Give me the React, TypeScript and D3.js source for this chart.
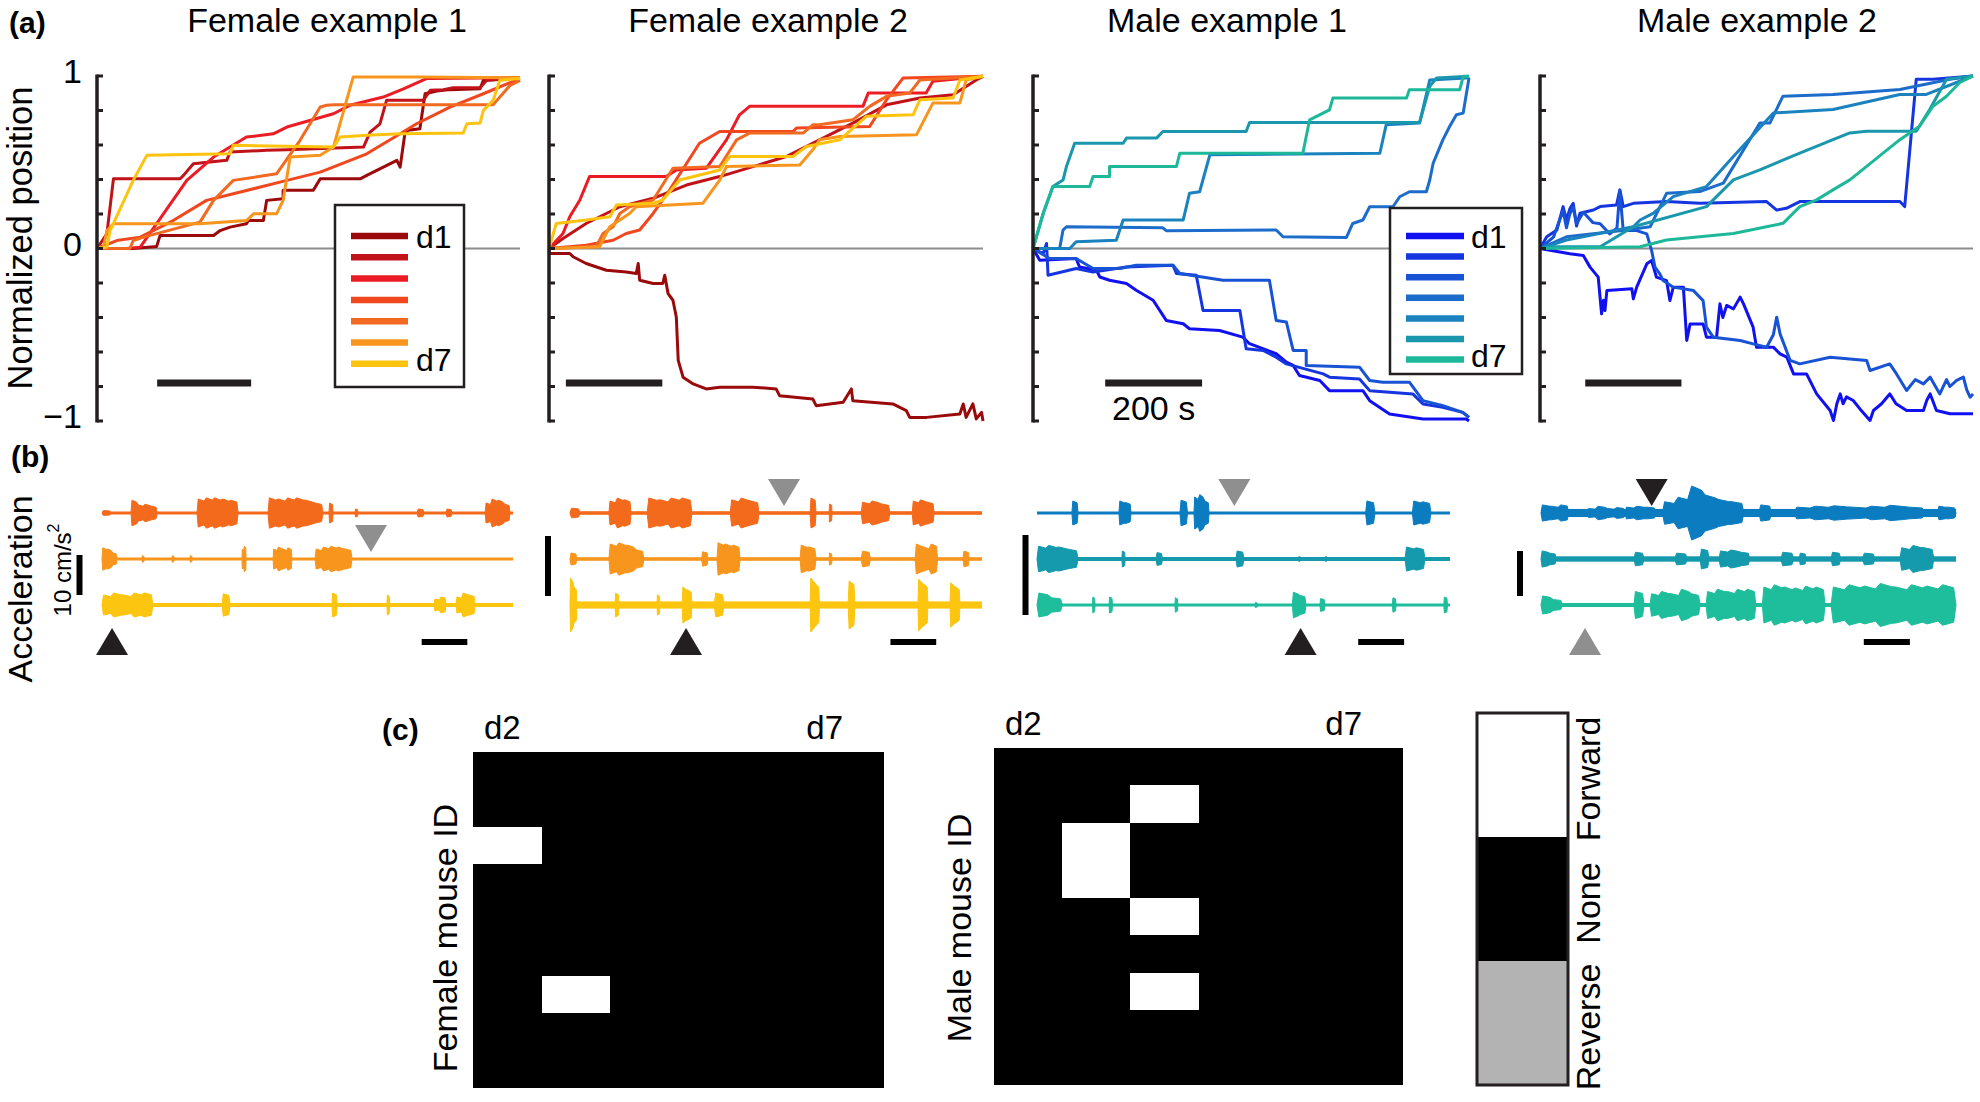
import React from 'react';
import * as d3 from 'd3';

const W = 1980;
const H = 1102;
const FONT = "'Liberation Sans', Arial, Helvetica, sans-serif";
const INK = '#231f20';
const FS = 34;

// ---------------- (a) normalized position ----------------
const panelTitles = ['Female example 1', 'Female example 2', 'Male example 1', 'Male example 2'];
const dayNames = ['d1', 'd2', 'd3', 'd4', 'd5', 'd6', 'd7'];
const femaleColors = ['#9a0a0a', '#c1121a', '#ec1c24', '#f0471f', '#f26a21', '#f7951d', '#fdc30f'];
const maleColors = ['#1010f0', '#1535e0', '#1852d5', '#1b6ccb', '#1a82be', '#1a97ac', '#1db899'];
const posTicks = [-1, -0.8, -0.6, -0.4, -0.2, 0, 0.2, 0.4, 0.6, 0.8, 1];
const posTickLabels = [
  { v: 1, label: '1' },
  { v: 0, label: '0' },
  { v: -1, label: '\u22121' },
];
const timeDomain = [0, 900];
const scaleBarSeconds = 200;
const scaleBarStarts = [128, 35, 149, 94];
const scaleBarLevel = -0.78;
const scaleBarText = '200 s';

type Pt = [number, number];

const female1: Pt[][] = [
  [[0,0],[77,0],[127,0.012],[134,0.075],[248,0.075],[262,0.104],[283,0.124],[318,0.143],[322,0.162],[354,0.162],[361,0.279],[396,0.288],[396,0.337],[460,0.337],[475,0.404],[560,0.404],[574,0.424],[638,0.511],[645,0.472],[655,0.665],[662,0.685],[687,0.694],[698,0.897],[723,0.913],[751,0.921],[815,0.926],[822,0.975],[857,0.979],[900,0.99]],
  [[0,0],[21,0.085],[35,0.404],[177,0.404],[184,0.424],[205,0.491],[276,0.511],[283,0.559],[361,0.569],[404,0.573],[567,0.588],[581,0.675],[602,0.723],[616,0.859],[694,0.859],[709,0.917],[737,0.921],[758,0.932],[815,0.932],[829,0.975],[900,0.99]],
  [[0,0],[63,0],[92,0.008],[191,0.395],[248,0.53],[318,0.646],[375,0.665],[404,0.704],[503,0.781],[538,0.83],[609,0.878],[652,0.926],[701,0.985],[900,0.99]],
  [[0,0],[42,0.046],[92,0.066],[162,0.162],[233,0.279],[290,0.317],[404,0.395],[475,0.443],[574,0.549],[645,0.665],[680,0.723],[751,0.82],[822,0.897],[900,0.985]],
  [[0,0],[70,0],[77,0.046],[99,0.066],[219,0.153],[248,0.279],[290,0.395],[382,0.433],[432,0.627],[475,0.82],[489,0.83],[503,0.834],[843,0.834],[879,0.946],[900,0.975]],
  [[0,0],[14,0.008],[21,0.104],[35,0.143],[219,0.143],[318,0.162],[333,0.201],[382,0.201],[396,0.279],[411,0.53],[475,0.54],[503,0.588],[545,0.994],[687,0.994],[900,0.99]],
  [[0,0],[21,0.008],[28,0.104],[77,0.395],[106,0.54],[283,0.549],[290,0.598],[503,0.588],[517,0.646],[574,0.656],[645,0.665],[779,0.669],[787,0.723],[815,0.727],[822,0.801],[843,0.859],[857,0.975],[900,0.985]],
];

const female2: Pt[][] = [
  [[0,0],[1,-0.029],[43,-0.029],[50,-0.048],[77,-0.087],[119,-0.126],[160,-0.136],[181,-0.145],[185,-0.087],[188,-0.184],[216,-0.203],[236,-0.203],[240,-0.155],[247,-0.262],[257,-0.3],[264,-0.397],[268,-0.649],[278,-0.746],[299,-0.785],[326,-0.814],[354,-0.804],[423,-0.804],[471,-0.814],[478,-0.853],[547,-0.872],[554,-0.911],[610,-0.891],[627,-0.814],[630,-0.882],[713,-0.901],[741,-0.94],[748,-0.979],[783,-0.979],[852,-0.959],[859,-0.901],[865,-0.979],[879,-0.901],[886,-0.988],[897,-0.95],[900,-1.0]],
  [[0,0],[29,0.058],[77,0.145],[147,0.242],[216,0.291],[285,0.368],[354,0.417],[423,0.475],[492,0.533],[561,0.63],[630,0.727],[700,0.833],[769,0.872],[838,0.891],[886,0.977],[900,0.998]],
  [[0,0],[29,0.087],[43,0.184],[64,0.281],[84,0.417],[243,0.417],[264,0.455],[326,0.465],[368,0.63],[395,0.775],[416,0.824],[651,0.824],[662,0.901],[782,0.901],[796,0.969],[900,0.998]],
  [[0,0],[77,0.019],[133,0.048],[160,0.087],[188,0.107],[216,0.203],[250,0.339],[312,0.61],[354,0.678],[506,0.678],[513,0.698],[665,0.707],[700,0.862],[734,0.988],[900,0.998]],
  [[0,0],[98,0.01],[112,0.087],[133,0.126],[147,0.203],[167,0.242],[216,0.281],[257,0.465],[354,0.475],[389,0.63],[416,0.669],[527,0.669],[547,0.717],[561,0.717],[630,0.746],[665,0.824],[700,0.882],[748,0.901],[769,0.977],[900,0.998]],
  [[0,0],[105,0.01],[126,0.126],[167,0.203],[181,0.242],[319,0.262],[354,0.397],[368,0.475],[520,0.484],[547,0.572],[561,0.63],[603,0.649],[762,0.659],[796,0.843],[852,0.843],[865,0.977],[900,0.998]],
  [[0,0],[15,0.145],[77,0.165],[126,0.184],[140,0.252],[216,0.262],[236,0.281],[271,0.397],[354,0.455],[375,0.533],[506,0.533],[534,0.591],[603,0.63],[658,0.766],[755,0.775],[769,0.862],[838,0.872],[852,0.977],[900,0.998]],
];

const male1: Pt[][] = [
  [[0,0],[14,-0.068],[89,-0.058],[96,-0.107],[131,-0.126],[138,-0.165],[158,-0.184],[193,-0.203],[213,-0.242],[248,-0.3],[275,-0.417],[310,-0.436],[323,-0.465],[385,-0.475],[433,-0.514],[447,-0.552],[502,-0.61],[523,-0.659],[537,-0.678],[550,-0.736],[592,-0.765],[612,-0.824],[681,-0.824],[695,-0.882],[736,-0.959],[805,-0.988],[894,-0.988],[900,-1.0]],
  [[0,0],[21,-0.029],[28,0.029],[31,-0.155],[89,-0.116],[124,-0.136],[193,-0.107],[289,-0.097],[296,-0.145],[337,-0.155],[351,-0.359],[427,-0.359],[440,-0.581],[475,-0.591],[502,-0.63],[523,-0.669],[599,-0.727],[612,-0.746],[674,-0.756],[695,-0.824],[784,-0.843],[805,-0.901],[846,-0.921],[887,-0.95],[900,-0.979]],
  [[0,0],[34,-0.058],[89,-0.058],[124,-0.116],[179,-0.116],[213,-0.097],[289,-0.097],[303,-0.145],[392,-0.184],[488,-0.184],[502,-0.417],[523,-0.426],[537,-0.591],[564,-0.591],[564,-0.678],[674,-0.688],[695,-0.765],[722,-0.775],[777,-0.775],[805,-0.882],[846,-0.911],[887,-0.95],[900,-0.979]],
  [[0,0],[55,0],[62,0.107],[69,0.126],[268,0.12],[275,0.103],[502,0.107],[516,0.068],[647,0.064],[660,0.145],[681,0.165],[695,0.242],[743,0.242],[757,0.3],[777,0.329],[812,0.329],[819,0.397],[826,0.494],[846,0.63],[860,0.707],[874,0.775],[888,0.785],[900,0.988]],
  [[0,0],[76,0],[89,0.039],[172,0.048],[186,0.165],[310,0.165],[323,0.32],[344,0.329],[365,0.543],[716,0.552],[729,0.717],[798,0.727],[819,0.977],[894,0.988],[900,0.998]],
  [[0,0],[21,0.203],[41,0.359],[62,0.397],[69,0.475],[86,0.61],[186,0.61],[193,0.64],[255,0.64],[268,0.678],[440,0.678],[447,0.731],[798,0.731],[819,0.94],[833,0.988],[900,0.998]],
  [[0,0],[21,0.203],[41,0.359],[117,0.359],[124,0.417],[158,0.417],[158,0.475],[296,0.475],[303,0.552],[557,0.552],[571,0.746],[612,0.804],[619,0.872],[771,0.872],[777,0.921],[881,0.921],[888,0.998],[900,0.998]],
];

const male2: Pt[][] = [
  [[0,0],[62,-0.031],[90,-0.041],[104,-0.108],[121,-0.166],[128,-0.379],[132,-0.3],[135,-0.36],[139,-0.244],[191,-0.234],[194,-0.292],[201,-0.224],[222,-0.089],[232,-0.07],[242,-0.166],[263,-0.186],[270,-0.302],[277,-0.224],[298,-0.224],[305,-0.533],[312,-0.437],[339,-0.437],[346,-0.514],[367,-0.514],[374,-0.321],[380,-0.4],[388,-0.33],[402,-0.35],[416,-0.282],[423,-0.321],[443,-0.456],[450,-0.572],[485,-0.572],[499,-0.611],[513,-0.63],[527,-0.727],[554,-0.727],[575,-0.843],[603,-0.939],[610,-0.997],[617,-0.9],[624,-0.843],[630,-0.9],[637,-0.86],[651,-0.881],[665,-0.93],[686,-0.997],[693,-0.939],[710,-0.9],[727,-0.843],[740,-0.9],[762,-0.939],[797,-0.939],[804,-0.88],[811,-0.843],[824,-0.939],[852,-0.958],[900,-0.958]],
  [[0,0],[14,0.068],[35,0.107],[48,0.243],[55,0.165],[62,0.23],[69,0.262],[76,0.13],[83,0.204],[111,0.223],[125,0.243],[159,0.252],[166,0.34],[173,0.243],[194,0.262],[263,0.272],[332,0.262],[471,0.272],[492,0.223],[512,0.233],[540,0.272],[679,0.272],[748,0.272],[758,0.243],[782,0.981],[817,0.981],[900,1.0]],
  [[0,0],[28,0.066],[48,0.22],[55,0.12],[62,0.2],[69,0.239],[76,0.143],[90,0.21],[110,0.15],[125,0.143],[145,0.085],[160,0.12],[166,0.336],[173,0.104],[201,0.104],[222,0.085],[232,-0.012],[239,-0.108],[249,-0.147],[256,-0.186],[277,-0.224],[319,-0.244],[339,-0.302],[346,-0.456],[360,-0.514],[416,-0.533],[443,-0.553],[471,-0.572],[485,-0.5],[492,-0.398],[499,-0.495],[520,-0.649],[540,-0.669],[603,-0.63],[679,-0.649],[686,-0.707],[727,-0.669],[741,-0.727],[762,-0.823],[780,-0.76],[797,-0.785],[811,-0.746],[831,-0.843],[845,-0.76],[852,-0.8],[866,-0.765],[880,-0.746],[887,-0.82],[894,-0.862],[900,-0.843]],
  [[0,0],[55,0.068],[180,0.107],[229,0.126],[263,0.32],[332,0.33],[381,0.379],[457,0.728],[478,0.728],[505,0.883],[609,0.893],[748,0.922],[852,0.981],[900,1.0]],
  [[0,0],[55,0.049],[194,0.126],[208,0.165],[235,0.204],[277,0.301],[346,0.359],[402,0.534],[485,0.786],[609,0.806],[748,0.893],[803,0.893],[900,1.0]],
  [[0,0],[21,0.01],[125,0.01],[194,0.126],[346,0.243],[402,0.398],[457,0.456],[540,0.553],[609,0.631],[644,0.67],[679,0.68],[782,0.68],[810,0.806],[845,0.981],[900,1.0]],
  [[0,0],[125,0.006],[208,0.01],[263,0.049],[332,0.068],[402,0.087],[471,0.126],[505,0.146],[540,0.243],[575,0.282],[609,0.34],[644,0.398],[679,0.476],[713,0.553],[748,0.631],[789,0.709],[817,0.825],[845,0.883],[872,0.961],[900,1.0]],
];

const panelPaths = [female1, female2, male1, male2];
const panelColors = [femaleColors, femaleColors, maleColors, maleColors];

// ---------------- (b) acceleration ----------------
type Burst = [number, number, number[]];
const accelDomain = [0, 180];
const accelScaleSeconds = 20;
const accelScaleStart = 140;
const accelScaleUnits = 10;
const accelUnitLabel = '10 cm/s';
const femaleTraceColors = ['#f46a1c', '#f7951d', '#fcc50f'];
const maleTraceColors = ['#0b7cc0', '#1599ad', '#1ebd9b'];
const accelGain = [4, 6, 8, 4.5];
const accelNoise = [
  [0.3, 0.3, 0.5],
  [0.3, 0.3, 0.6],
  [0.15, 0.25, 0.15],
  [0.9, 0.6, 0.45],
];

const accelF1: Burst[][] = [
  [[0,4,[0.6]],[12.7,24.1,[3.2,2,2.2,1.7]],[41.6,59.6,[3.5,3.8,3.8,3.5,3.2]],[72.7,96.8,[3.8,3.5,3.8,3.8,3.2,2.5]],[99.4,101.2,[2.5]],[110.8,112.1,[1]],[138,141,[1]],[150.7,153.3,[1]],[167.8,178.7,[2.5,3.5,3.2,2.2]]],
  [[0,6.6,[2.8,2.5,1.5]],[17.5,18.5,[0.8]],[30.6,31.6,[0.8]],[38.5,39.5,[0.8]],[61.3,63.1,[2.5,3.2]],[74.9,83.2,[2.5,3,2.5,2.8]],[93.3,109.5,[2.5,3,3.2,3,2.5]]],
  [[0,22.3,[2.5,3,2.5,3,3]],[52.6,56.1,[2.8]],[100.7,103,[3]],[124.8,126,[2.5]],[145.4,150.7,[1.5,2]],[155,163.4,[2,3,2.5]]],
];
const accelF2: Burst[][] = [
  [[0,4.4,[0.8]],[17,26.7,[2,2.5,2.2]],[33.7,53.3,[2.5,2.2,2.5,2.5]],[70,82.6,[2.2,2.5,2]],[104.9,107.5,[2.5]],[113.2,114.5,[1.5]],[127.2,139.8,[1.8,2,1.5]],[149.5,159.1,[2,2.2,1.8]]],
  [[0,3,[1]],[17,32.3,[2.5,2.7,2.3,1.5]],[57.5,60.3,[1.2]],[64.2,74.3,[2.7,2.5,2.3]],[100.5,107.5,[2.3,2]],[113.2,114.5,[1]],[127.2,131.3,[1.3]],[150.8,160.6,[2.5,2,2.5]],[171.7,174.4,[1.3]]],
  [[0,3,[4.5,3]],[19.7,21.4,[2]],[38,39.3,[1.7]],[49,53.3,[3,2.5]],[63,67.3,[2]],[104.9,109,[4.5,3.5]],[121.5,124.5,[4]],[152,156.4,[4.3,3.5]],[166,170.4,[3.7,3]]],
];
const accelM1: Burst[][] = [
  [[15.2,17.9,[1.5]],[35.7,41,[1.5,1.3]],[62.3,65.6,[1.6]],[68.4,75,[2,2.3,1.5]],[143.2,147.3,[1.5]],[163.6,171.7,[1.5,1.4]]],
  [[0,17.9,[1.6,1.7,1.5,1.2]],[37,38.4,[1]],[51.9,54.7,[0.8]],[86.7,90.2,[1]],[114,114.9,[0.3]],[125.6,126.5,[0.3]],[160.4,169.1,[1.5,1.4]]],
  [[0,11.1,[1.5,0.9]],[24.2,25.3,[1]],[31.4,32.9,[1]],[60.1,61.4,[0.9]],[95,96.1,[0.3]],[111.3,117.2,[1.6,1.2]],[123.3,125.5,[0.8]],[154.9,156.5,[0.9]],[177.3,178.9,[1]]],
];
const accelM2: Burst[][] = [
  [[0,12,[1.8,1.5,1.8]],[20,36.4,[1,1.5,1,1.2]],[36.4,49.9,[1.3,1.5,1.3]],[52.7,88,[2.5,3.5,6,4,3,2.5]],[94.5,100,[1.8]],[109.7,166.5,[1.3,1.5,1.6,1.3,1.5,1.7,1.3]],[172,180,[1.5,1.3]]],
  [[0,6.6,[1.8,1.3]],[40.3,44.7,[1.5]],[58,63.5,[1.3]],[69,72.9,[2.2]],[77.2,90.6,[1.8,2,1.5]],[104,109.7,[1.5]],[112,115,[1.3]],[125.8,130,[1.5]],[139.4,144.9,[1.3]],[155.7,170.4,[2.5,3,2.5]]],
  [[0,9.3,[2,1.2]],[40.3,44.7,[3]],[47.3,69,[2.5,3,2.5,3.5,2.5]],[71.6,93.2,[3,3.5,3,3.5,3.5]],[96,123.2,[4,4.5,4,3.8,4.2,4]],[125.8,180,[4,4.5,4.2,4.8,4,4.5,4.2,4.5]]],
];
const accelPanels = [accelF1, accelF2, accelM1, accelM2];
const accelColors = [femaleTraceColors, femaleTraceColors, maleTraceColors, maleTraceColors];

const eventMarkers = [
  { panel: 0, t: 117.8, row: 1, dir: 'down', tone: 'gray' },
  { panel: 0, t: 4.4, row: 2, dir: 'up', tone: 'black' },
  { panel: 1, t: 93.5, row: 0, dir: 'down', tone: 'gray' },
  { panel: 1, t: 50.7, row: 2, dir: 'up', tone: 'black' },
  { panel: 2, t: 86, row: 0, dir: 'down', tone: 'gray' },
  { panel: 2, t: 114.9, row: 2, dir: 'up', tone: 'black' },
  { panel: 3, t: 48, row: 0, dir: 'down', tone: 'black' },
  { panel: 3, t: 19.1, row: 2, dir: 'up', tone: 'gray' },
];

// ---------------- (c) behaviour maps ----------------
const heatDays = ['d2', 'd3', 'd4', 'd5', 'd6', 'd7'];
const mouseIds = ['m1', 'm2', 'm3', 'm4', 'm5', 'm6', 'm7', 'm8', 'm9'];
const femaleMatrix = [
  [0, 0, 0, 0, 0, 0],
  [0, 0, 0, 0, 0, 0],
  [1, 0, 0, 0, 0, 0],
  [0, 0, 0, 0, 0, 0],
  [0, 0, 0, 0, 0, 0],
  [0, 0, 0, 0, 0, 0],
  [0, 1, 0, 0, 0, 0],
  [0, 0, 0, 0, 0, 0],
  [0, 0, 0, 0, 0, 0],
];
const maleMatrix = [
  [0, 0, 0, 0, 0, 0],
  [0, 0, 1, 0, 0, 0],
  [0, 1, 0, 0, 0, 0],
  [0, 1, 0, 0, 0, 0],
  [0, 0, 1, 0, 0, 0],
  [0, 0, 0, 0, 0, 0],
  [0, 0, 1, 0, 0, 0],
  [0, 0, 0, 0, 0, 0],
  [0, 0, 0, 0, 0, 0],
];
const behaviourCategories = [
  { label: 'Forward', value: 1 },
  { label: 'None', value: 0 },
  { label: 'Reverse', value: -1 },
];
const behaviourColor = d3.scaleOrdinal<number, string>().domain([1, 0, -1]).range(['#ffffff', '#000000', '#b3b3b3']);

// ---------------- layout ----------------
const aX0 = [97, 549, 1033, 1540];
const aX1 = [520, 983, 1469, 1973];
const aTitleX = [327, 768, 1227, 1757];
const aYTop = 76;
const aYBot = 421;
const legendBoxes = [
  { panel: 0, x: 335, y: 205, w: 129, h: 182, lx0: 351, lx1: 408, ly0: 236, step: 21.3, tx: 416 },
  { panel: 2, x: 1390, y: 208, w: 132, h: 166, lx0: 1406, lx1: 1464, ly0: 236, step: 20.6, tx: 1471 },
];
const bX0 = [102, 570, 1037, 1541];
const bX1 = [513, 982, 1450, 1956];
const rowY = [513, 559, 605];
const vBarX = [79.5, 548, 1025.5, 1520];
const vBarBottom = [595, 596, 615, 596];

const posY = d3.scaleLinear().domain([-1, 1]).range([aYBot, aYTop]);

function HeatMap({ matrix, x0, x1, y0, y1, label }: any) {
  const xb = d3.scaleBand<string>().domain(heatDays).range([x0, x1]);
  const yb = d3.scaleBand<string>().domain(mouseIds).range([y0, y1]);
  return (
    <g>
      <rect x={x0} y={y0} width={x1 - x0} height={y1 - y0} fill={behaviourColor(0)} shapeRendering="crispEdges" />
      {matrix.map((row: number[], i: number) =>
        row.map((v: number, j: number) =>
          v === 0 ? null : (
            <rect key={`${i}-${j}`} x={xb(heatDays[j])} y={yb(mouseIds[i])} width={xb.bandwidth()} height={yb.bandwidth()} fill={behaviourColor(v)} shapeRendering="crispEdges" />
          )
        )
      )}
      <text x={(xb(heatDays[0]) as number) + 11} y={y0 - 13} fontSize={33} fontFamily={FONT}>{heatDays[0]}</text>
      <text x={x1 - 41} y={y0 - 13} fontSize={33} fontFamily={FONT} textAnchor="end">{heatDays[heatDays.length - 1]}</text>
      <text transform={`translate(${label.x},${label.y}) rotate(-90)`} fontSize={FS} fontFamily={FONT} textAnchor="middle" dominantBaseline="central">{label.text}</text>
    </g>
  );
}

function burstPolygon(b: Burst, x: d3.ScaleLinear<number, number>, y0: number, gain: number) {
  const [t0, t1, amps] = b;
  const xs = x(t0), xe = Math.max(x(t1), x(t0) + 2);
  const n = amps.length;
  const top: [number, number][] = [[xs, y0]];
  amps.forEach((a, i) => {
    const xa = xs + ((xe - xs) * (i + 0.15)) / n;
    const xb = xs + ((xe - xs) * (i + 0.85)) / n;
    top.push([xa, y0 - a * gain]);
    top.push([xb, y0 - a * gain * 0.85]);
  });
  top.push([xe, y0]);
  const bottom = top.slice(1, -1).reverse().map(([px, py]) => [px, 2 * y0 - py] as [number, number]);
  return d3.line()([...top, ...bottom]) + 'Z';
}

export default function App() {
  const line = d3.line<Pt>();
  return (
    <svg width={W} height={H} style={{ position: 'absolute', left: 0, top: 0, display: 'block', background: '#fff' }} fontFamily={FONT}>
      <rect x={0} y={0} width={W} height={H} fill="#fff" />
      {/* panel letters */}
      <text x={9} y={33} fontSize={30} fontWeight="bold">(a)</text>
      <text x={11} y={467} fontSize={30} fontWeight="bold">(b)</text>
      <text x={382} y={740} fontSize={30} fontWeight="bold">(c)</text>

      {/* ---------- (a) ---------- */}
      <text transform={`translate(20,238) rotate(-90)`} fontSize={FS + 0.5} textAnchor="middle" dominantBaseline="central">Normalized position</text>
      {panelPaths.map((paths, p) => {
        const x = d3.scaleLinear().domain(timeDomain).range([aX0[p], aX1[p]]);
        const colors = panelColors[p];
        return (
          <g key={p}>
            <text x={aTitleX[p]} y={32} fontSize={FS} textAnchor="middle">{panelTitles[p]}</text>
            <line x1={aX0[p]} x2={aX1[p]} y1={posY(0)} y2={posY(0)} stroke="#8c8c8c" strokeWidth={2} />
            {paths.map((pts, k) => (
              <path key={k} d={line.x((d) => x(d[0])).y((d) => posY(d[1]))(pts) as string} fill="none" stroke={colors[k]} strokeWidth={3} strokeLinejoin="round" />
            ))}
            <line x1={aX0[p]} x2={aX0[p]} y1={posY(1) - 1.5} y2={posY(-1) + 1.5} stroke={INK} strokeWidth={3.5} />
            {posTicks.map((v) => (
              <line key={v} x1={aX0[p]} x2={aX0[p] + 6} y1={posY(v)} y2={posY(v)} stroke={INK} strokeWidth={3} />
            ))}
            <line x1={x(scaleBarStarts[p])} x2={x(scaleBarStarts[p] + scaleBarSeconds)} y1={posY(scaleBarLevel)} y2={posY(scaleBarLevel)} stroke={INK} strokeWidth={7} />
            {p === 2 && (
              <text x={(x(scaleBarStarts[p]) + x(scaleBarStarts[p] + scaleBarSeconds)) / 2} y={420} fontSize={FS} textAnchor="middle">{scaleBarText}</text>
            )}
          </g>
        );
      })}
      {posTickLabels.map((t) => (
        <text key={t.v} x={aX0[0] - 15} y={posY(t.v) - 5} fontSize={FS} textAnchor="end" dominantBaseline="central">{t.label}</text>
      ))}
      {legendBoxes.map((lb) => {
        const colors = panelColors[lb.panel];
        return (
          <g key={lb.panel}>
            <rect x={lb.x} y={lb.y} width={lb.w} height={lb.h} fill="#fff" stroke={INK} strokeWidth={2.5} />
            {dayNames.map((d, k) => (
              <line key={d} x1={lb.lx0} x2={lb.lx1} y1={lb.ly0 + k * lb.step} y2={lb.ly0 + k * lb.step} stroke={colors[k]} strokeWidth={6.5} />
            ))}
            <text x={lb.tx} y={lb.ly0 + 1} fontSize={32} dominantBaseline="central">{dayNames[0]}</text>
            <text x={lb.tx} y={lb.ly0 + 6 * lb.step - 4} fontSize={32} dominantBaseline="central">{dayNames[6]}</text>
          </g>
        );
      })}

      {/* ---------- (b) ---------- */}
      <text transform={`translate(20,589) rotate(-90)`} fontSize={FS} textAnchor="middle" dominantBaseline="central">Acceleration</text>
      <text transform={`translate(62,570) rotate(-90)`} fontSize={24} textAnchor="middle" dominantBaseline="central">
        {accelUnitLabel}
        <tspan dy={-9} fontSize={16}>2</tspan>
      </text>
      {accelPanels.map((rows, p) => {
        const x = d3.scaleLinear().domain(accelDomain).range([bX0[p], bX1[p]]);
        const gain = accelGain[p];
        return (
          <g key={p}>
            {rows.map((bursts, r) => {
              const c = accelColors[p][r];
              const y0 = rowY[r];
              const nz = accelNoise[p][r] * gain;
              return (
                <g key={r}>
                  <rect x={x(accelDomain[0])} y={y0 - Math.max(nz, 1.5)} width={x(accelDomain[1]) - x(accelDomain[0])} height={2 * Math.max(nz, 1.5)} fill={c} />
                  {bursts.map((b, i) => (
                    <path key={i} d={burstPolygon(b, x, y0, gain)} fill={c} stroke={c} strokeWidth={1} strokeLinejoin="round" />
                  ))}
                </g>
              );
            })}
            <line x1={x(accelScaleStart)} x2={x(accelScaleStart + accelScaleSeconds)} y1={642} y2={642} stroke="#000" strokeWidth={6} />
            <line x1={vBarX[p]} x2={vBarX[p]} y1={vBarBottom[p] - accelScaleUnits * gain} y2={vBarBottom[p]} stroke="#000" strokeWidth={6} />
          </g>
        );
      })}
      {eventMarkers.map((m, i) => {
        const x = d3.scaleLinear().domain(accelDomain).range([bX0[m.panel], bX1[m.panel]]);
        const cx = x(m.t);
        const fill = m.tone === 'gray' ? '#8f8f8f' : INK;
        const hw = 16, h = 27;
        let pts: string;
        if (m.dir === 'down') {
          const tip = rowY[m.row] - 7;
          pts = `${cx - hw},${tip - h} ${cx + hw},${tip - h} ${cx},${tip}`;
        } else {
          const base = 655;
          pts = `${cx - hw},${base} ${cx + hw},${base} ${cx},${base - h}`;
        }
        return <polygon key={i} points={pts} fill={fill} />;
      })}

      {/* ---------- (c) ---------- */}
      <HeatMap matrix={femaleMatrix} x0={473} x1={884} y0={752} y1={1088} label={{ x: 445, y: 938, text: 'Female mouse ID' }} />
      <HeatMap matrix={maleMatrix} x0={994} x1={1403} y0={748} y1={1085} label={{ x: 959, y: 928, text: 'Male mouse ID' }} />
      {(() => {
        const yb = d3.scaleBand<string>().domain(behaviourCategories.map((c) => c.label)).range([713, 1085]);
        return (
          <g>
            {behaviourCategories.map((c) => (
              <rect key={c.label} x={1477} y={yb(c.label)} width={91} height={yb.bandwidth()} fill={behaviourColor(c.value)} shapeRendering="crispEdges" />
            ))}
            <rect x={1477} y={713} width={91} height={372} fill="none" stroke={INK} strokeWidth={3} />
            {behaviourCategories.map((c) => (
              <text key={c.label} transform={`translate(1588,${(yb(c.label) as number) + yb.bandwidth() / 2 + 4}) rotate(-90)`} fontSize={FS} textAnchor="middle" dominantBaseline="central">{c.label}</text>
            ))}
          </g>
        );
      })()}
    </svg>
  );
}
